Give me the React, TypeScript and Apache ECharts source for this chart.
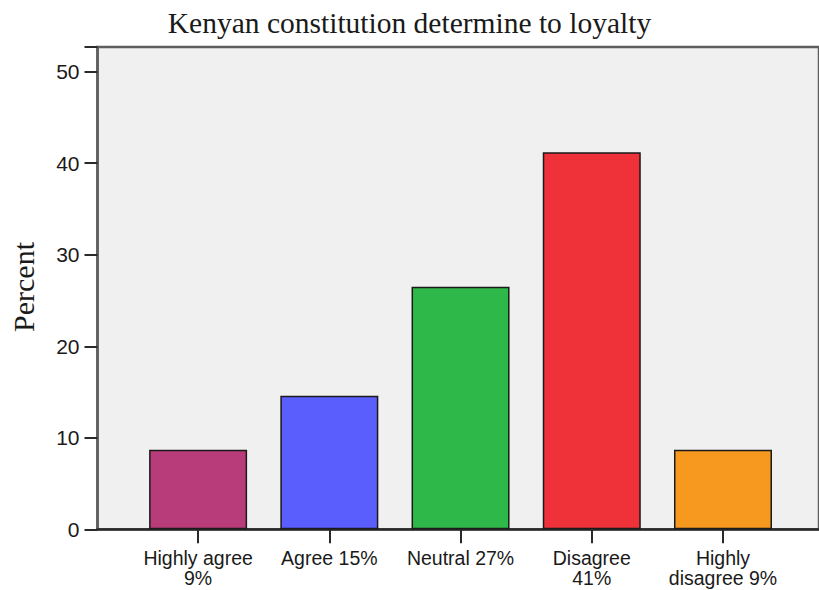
import React, { useEffect, useRef } from "react";
import * as echarts from "echarts";

const titleText = "Kenyan constitution determine to loyalty";
const yAxisTitle = "Percent";
const categories = ["Highly agree\n9%", "Agree 15%", "Neutral 27%", "Disagree\n41%", "Highly\ndisagree 9%"];
const percentValues = [8.7, 14.6, 26.5, 41.2, 8.7];
const barColors = ["#b83c7a", "#5a5efc", "#2fb84a", "#ef323a", "#f8991f"];
const yTicks = [0, 10, 20, 30, 40, 50];

export default function App() {
  const ref = useRef<HTMLDivElement>(null);
  useEffect(() => {
    if (!ref.current) return;
    const chart = echarts.init(ref.current, undefined, { renderer: "svg" });
    const yMax = 52.7;
    chart.setOption({
      animation: false,
      backgroundColor: "#ffffff",
      title: {
        text: titleText,
        left: "center",
        top: 8,
        padding: 0,
        textStyle: {
          fontFamily: "'Liberation Serif', 'Times New Roman', serif",
          fontSize: 29.5,
          fontWeight: "normal",
          color: "#1a1a1a",
        },
      },
      graphic: [
        {
          type: "text",
          x: 23,
          y: 287,
          rotation: Math.PI / 2,
          style: {
            text: yAxisTitle,
            font: "30px 'Liberation Serif', 'Times New Roman', serif",
            fill: "#1a1a1a",
            textAlign: "center",
            textVerticalAlign: "middle",
          },
        },
      ],
      grid: [
        {
          left: 97.5,
          right: -10,
          top: 47,
          bottom: 60.7,
          show: true,
          backgroundColor: "#f0f0f0",
          borderColor: "#5e5e5e",
          borderWidth: 2.5,
        },
        {
          left: 132.5,
          right: 30.4,
          top: 47,
          bottom: 60.7,
        },
      ],
      xAxis: [
        {
          gridIndex: 0,
          type: "value",
          min: 0,
          max: 1,
          axisLine: { show: true, onZero: false, lineStyle: { color: "#2a2a2a", width: 2.5 } },
          axisTick: { show: false },
          axisLabel: { show: false },
          splitLine: { show: false },
        },
        {
          gridIndex: 1,
          type: "category",
          data: categories,
          axisLine: { show: false },
          axisTick: {
            show: true,
            alignWithLabel: true,
            length: 14,
            lineStyle: { color: "#2a2a2a", width: 2 },
          },
          axisLabel: {
            interval: 0,
            margin: 19,
            fontFamily: "'Liberation Sans', Arial, sans-serif",
            fontSize: 19.5,
            lineHeight: 20,
            color: "#1a1a1a",
            verticalAlign: "top",
          },
          splitLine: { show: false },
        },
      ],
      yAxis: [
        {
          gridIndex: 0,
          type: "value",
          min: 0,
          max: yMax,
          interval: 10,
          axisLine: { show: true, lineStyle: { color: "#5e5e5e", width: 2.5 } },
          axisTick: { show: true, length: 13, lineStyle: { color: "#2a2a2a", width: 2 } },
          axisLabel: {
            margin: 18,
            fontFamily: "'Liberation Sans', Arial, sans-serif",
            fontSize: 21,
            color: "#1a1a1a",
            formatter: (v: number) => (yTicks.includes(v) ? String(v) : ""),
          },
          splitLine: { show: false },
        },
        {
          gridIndex: 1,
          type: "value",
          min: 0,
          max: yMax,
          show: false,
        },
      ],
      series: [
        {
          type: "bar",
          xAxisIndex: 1,
          yAxisIndex: 1,
          barWidth: 98,
          data: percentValues.map((v, i) => ({
            value: v,
            itemStyle: { color: barColors[i] },
          })),
          itemStyle: { borderColor: "#1a1a1a", borderWidth: 1.5 },
        },
      ],
    });
    return () => chart.dispose();
  }, []);
  return (
    <div
      ref={ref}
      style={{ position: "fixed", left: 0, top: 0, width: 819, height: 590 }}
    />
  );
}
